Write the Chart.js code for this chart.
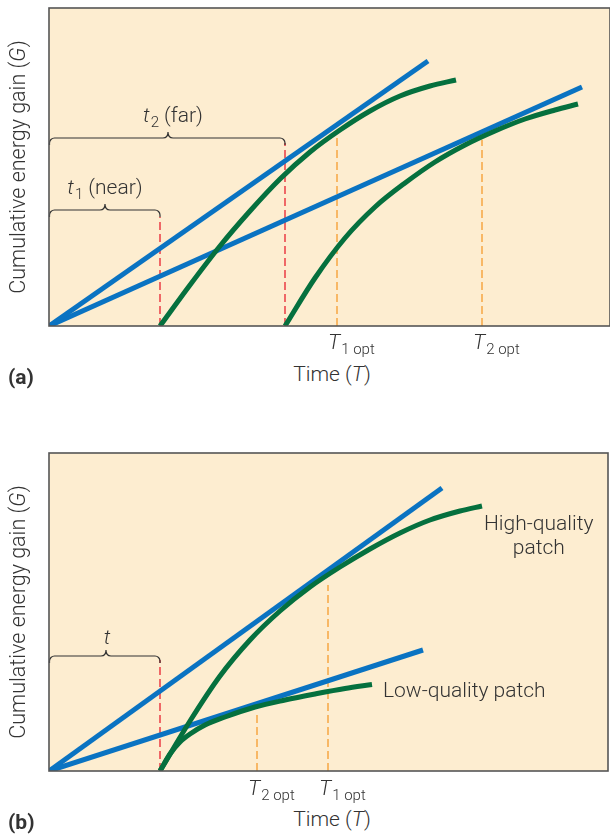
<!DOCTYPE html>
<html>
<head>
<meta charset="utf-8">
<script src="https://cdn.jsdelivr.net/npm/chart.js@4"></script>
<style>
  body { margin: 0; background: #fff; }
  #page { position: relative; width: 610px; height: 834px; overflow: hidden; }
  .box { position: absolute; left: 0; width: 610px; }
  .lab { position: absolute; font-family: Roboto, "Liberation Sans", sans-serif; font-weight: 300;
         font-size: 21px; line-height: 1; color: #333; white-space: nowrap; }
  .lab i { font-style: italic; }
  .lab .sb { font-size: 15px; position: relative; top: 5px; margin-left: 1px; }
  .tag { font-weight: 700; }
</style>
</head>
<body>
<div id="page">
  <div class="box" id="boxA" style="top:0;height:330px"><canvas id="chartA"></canvas></div>
  <div class="box" id="boxB" style="top:440px;height:336px"><canvas id="chartB"></canvas></div>
</div>
<script>
document.addEventListener("DOMContentLoaded", function() {
    // --- 1. 값 (그림에서 읽은 값: x = 시간, y = 누적 에너지 획득) ---
    // (a) near / far patches
    const nearRateX = [0, 379];
    const nearRateG = [0, 265];
    const farRateX = [0, 533];
    const farRateG = [0, 239];
    const nearPatchX = [111, 141, 171, 201, 231, 261, 291, 321, 351, 381, 407];
    const nearPatchG = [0, 41, 80, 115, 147, 174, 196, 215, 230, 240, 246];
    const farPatchX = [236, 266, 296, 326, 356, 386, 416, 446, 476, 506, 529];
    const farPatchG = [0, 48, 88, 119, 143, 164, 181, 195, 207, 216, 222];
    const travelA = [111, 236];        // t1, t2
    const travelTopA = [109, 183];
    const optA = [288, 433];           // T1 opt, T2 opt
    const optTopA = [188, 186];

    // (b) high / low quality patches
    const highRateX = [0, 393];
    const highRateG = [0, 283];
    const lowRateX = [0, 374];
    const lowRateG = [0, 121];
    const highPatchX = [111, 141, 171, 201, 231, 261, 291, 321, 351, 381, 411, 433];
    const highPatchG = [0, 50, 95, 131, 160, 184, 204, 222, 238, 251, 260, 265];
    const lowPatchX = [111, 121, 131, 141, 156, 176, 206, 236, 266, 296, 323];
    const lowPatchG = [0, 17, 29, 37, 46, 54, 64, 71, 77, 82.5, 86.5];
    const travelB = [111];
    const travelTopB = [111];
    const optB = [208, 279];           // T2 opt, T1 opt
    const optTopB = [58, 186];

    // 중괄호 (from, to, level, tip) — 데이터 단위
    const bracesA = [
        { from: 0, to: 111, level: 116, tip: 56 },
        { from: 0, to: 236, level: 188, tip: 119 }
    ];
    const bracesB = [
        { from: 0, to: 111, level: 115, tip: 57 }
    ];

    const BG = '#fdedd0';
    const BLUE = '#0a73c2';
    const GREEN = '#05703e';
    const RED = '#e8303b';
    const ORANGE = '#f5a23a';

    const zip = (xs, ys) => xs.map((x, i) => ({ x: x, y: ys[i] }));

    function curve(xs, ys, color) {
        return { data: zip(xs, ys), borderColor: color, borderWidth: 5, showLine: true,
                 pointRadius: 0, cubicInterpolationMode: 'monotone', fill: false, clip: 0 };
    }
    function dashed(xs, tops, color) {
        return xs.map((x, i) => ({
            data: [{ x: x, y: 0 }, { x: x, y: tops[i] }], borderColor: color, borderWidth: 1.4,
            borderDash: [8, 4], showLine: true, pointRadius: 0, fill: false, clip: 0
        }));
    }

    const panelPlugin = {
        id: 'panel',
        beforeDraw(chart) {
            const { ctx, chartArea: a } = chart;
            ctx.save();
            ctx.fillStyle = BG;
            ctx.fillRect(a.left, a.top, a.right - a.left, a.bottom - a.top);
            ctx.restore();
        },
        afterDatasetsDraw(chart, args, opts) {
            const { ctx, scales: { x, y } } = chart;
            ctx.save();
            ctx.strokeStyle = '#333';
            ctx.lineWidth = 1.2;
            (opts.braces || []).forEach(b => {
                const x0 = x.getPixelForValue(b.from) + 0.5, x1 = x.getPixelForValue(b.to);
                const xm = x.getPixelForValue(b.tip), yy = y.getPixelForValue(b.level);
                const r = 5, hook = 7, tip = 6;
                ctx.beginPath();
                ctx.moveTo(x0, yy + hook);
                ctx.arcTo(x0, yy, x0 + r, yy, r);
                ctx.lineTo(xm - r, yy);
                ctx.quadraticCurveTo(xm, yy, xm, yy - tip);
                ctx.quadraticCurveTo(xm, yy, xm + r, yy);
                ctx.lineTo(x1 - r, yy);
                ctx.arcTo(x1, yy, x1, yy + hook, r);
                ctx.lineTo(x1, yy + hook);
                ctx.stroke();
            });
            ctx.restore();
        },
        afterDraw(chart) {
            const { ctx, chartArea: a } = chart;
            ctx.save();
            ctx.strokeStyle = '#555';
            ctx.lineWidth = 1.6;
            ctx.strokeRect(a.left, a.top, a.right - a.left, a.bottom - a.top);
            ctx.restore();
        }
    };

    function makeChart(id, datasets, xMax, pad, braces) {
        return new Chart(document.getElementById(id), {
            type: 'scatter',
            data: { datasets: datasets },
            options: {
                responsive: true,
                maintainAspectRatio: false,
                animation: false,
                events: [],
                layout: { padding: pad },
                plugins: { legend: { display: false }, tooltip: { enabled: false }, panel: { braces: braces } },
                scales: {
                    x: { type: 'linear', display: false, min: 0, max: xMax },
                    y: { type: 'linear', display: false, min: 0, max: 318 }
                }
            },
            plugins: [panelPlugin]
        });
    }

    // --- 2. 차트 ---
    const chartA = makeChart('chartA', [
        curve(nearPatchX, nearPatchG, GREEN),
        curve(farPatchX, farPatchG, GREEN),
        curve(nearRateX, nearRateG, BLUE),
        curve(farRateX, farRateG, BLUE),
        ...dashed(travelA, travelTopA, RED),
        ...dashed(optA, optTopA, ORANGE)
    ], 561, { top: 8, left: 49, right: 0, bottom: 4 }, bracesA);

    const chartB = makeChart('chartB', [
        curve(highPatchX, highPatchG, GREEN),
        curve(lowPatchX, lowPatchG, GREEN),
        curve(highRateX, highRateG, BLUE),
        curve(lowRateX, lowRateG, BLUE),
        ...dashed(travelB, travelTopB, RED),
        ...dashed(optB, optTopB, ORANGE)
    ], 559, { top: 13, left: 49, right: 2, bottom: 5 }, bracesB);

    // --- 3. 텍스트 ---
    const page = document.getElementById('page');
    function addLabel(html, left, top, align, cls) {
        const el = document.createElement('div');
        el.className = 'lab' + (cls ? ' ' + cls : '');
        el.innerHTML = html;
        el.style.left = left + 'px';
        el.style.top = top + 'px';
        el.style.transform = align === 'left' ? 'translate(0,-50%)' : 'translate(-50%,-50%)';
        page.appendChild(el);
        return el;
    }
    function px(chart, offsetTop, xv, yv) {
        return { x: chart.scales.x.getPixelForValue(xv), y: offsetTop + chart.scales.y.getPixelForValue(yv) };
    }
    function decorate(chart, offsetTop, tag) {
        const a = chart.chartArea;
        const yt = addLabel('Cumulative energy gain (<i>G</i>)', 18, offsetTop + (a.top + a.bottom) / 2, 'center');
        yt.style.fontSize = '21.5px';
        yt.style.transform = 'translate(-50%,-50%) rotate(-90deg)';
        addLabel('Time (<i>T</i>)', 332, offsetTop + a.bottom + 48, 'center');
        addLabel('(' + tag + ')', 8, offsetTop + a.bottom + 51, 'left', 'tag');
    }
    decorate(chartA, 0, 'a');
    decorate(chartB, 440, 'b');

    const subs = ['1 opt', '2 opt'];
    optA.forEach((v, i) => {
        const p = px(chartA, 0, v, 0);
        addLabel('<i>T</i><span class="sb">' + subs[i] + '</span>', p.x - 9, p.y + 16, 'left');
    });
    const subsB = ['2 opt', '1 opt'];
    optB.forEach((v, i) => {
        const p = px(chartB, 440, v, 0);
        addLabel('<i>T</i><span class="sb">' + subsB[i] + '</span>', p.x - 9, p.y + 17, 'left');
    });

    const braceTextA = ['<i>t</i><span class="sb">1</span> (near)', '<i>t</i><span class="sb">2</span> (far)'];
    bracesA.forEach((b, i) => {
        const p = px(chartA, 0, b.tip, b.level);
        addLabel(braceTextA[i], p.x + (i ? 5 : 0), p.y - 23, 'center');
    });
    bracesB.forEach(b => {
        const p = px(chartB, 440, b.tip, b.level);
        addLabel('<i>t</i>', p.x + 1, p.y - 19, 'center');
    });

    const hiEnd = px(chartB, 440, highPatchX[highPatchX.length - 1], highPatchG[highPatchG.length - 1]);
    const hi = addLabel('High-quality<br>patch', hiEnd.x + 2, hiEnd.y + 29, 'left');
    hi.style.textAlign = 'center';
    hi.style.lineHeight = '24px';
    const loEnd = px(chartB, 440, lowPatchX[lowPatchX.length - 1], lowPatchG[lowPatchG.length - 1]);
    addLabel('Low-quality patch', loEnd.x + 11, loEnd.y + 5, 'left');
});
</script>
</body>
</html>
